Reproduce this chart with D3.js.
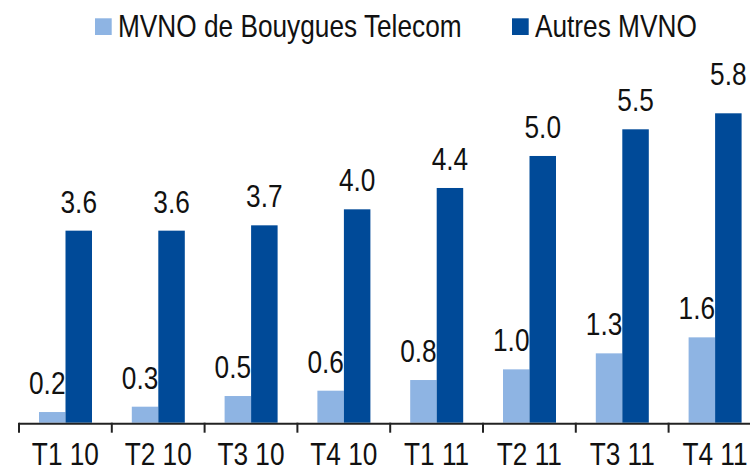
<!DOCTYPE html>
<html><head><meta charset="utf-8">
<script src="https://cdn.jsdelivr.net/npm/d3@7"></script>
<style>
html,body{margin:0;padding:0;background:#fff;}
svg{display:block;}
text{font-family:"Liberation Sans",Arial,sans-serif;fill:#111;}
</style></head>
<body>
<svg id="c" width="750" height="472"></svg>
<script>
const categories = ["T1 10","T2 10","T3 10","T4 10","T1 11","T2 11","T3 11","T4 11"];
const seriesNames = ["MVNO de Bouygues Telecom","Autres MVNO"];
const bouygues = [0.2,0.3,0.5,0.6,0.8,1.0,1.3,1.6];
const autres = [3.6,3.6,3.7,4.0,4.4,5.0,5.5,5.8];
const colors = ["#8EB4E3","#004A98"];

const NARROW = 0.82;
const svg = d3.select("#c");
const base = 422.7;
const x = d3.scaleBand().domain(categories).range([19, 19 + 92.8*8]).padding(0);
const xs = d3.scaleBand().domain(seriesNames).range([20, 73]).padding(0);
const y = d3.scaleLinear().domain([0, 5.8]).range([base, 113.3]);

function ntext(sel, tx, ty, str, anchor){
  return sel.append("text")
    .attr("transform", `translate(${tx},${ty}) scale(${NARROW},1)`)
    .attr("text-anchor", anchor || "middle")
    .attr("font-size", 32).text(str);
}

const data = categories.map((c,i)=>({c, vals:[bouygues[i], autres[i]]}));

svg.append("g").selectAll("g.grp").data(data).join("g").attr("class","grp")
  .attr("transform", d=>`translate(${x(d.c)},0)`)
  .each(function(d,i){
    const gg = d3.select(this);
    d.vals.forEach((v,k)=>{
      const s = seriesNames[k];
      gg.append("rect").attr("x", xs(s)).attr("width", xs.bandwidth())
        .attr("y", y(v)).attr("height", base - y(v)).attr("fill", colors[k]);
      const extra = (k===1 && i===categories.length-1) ? -10 : 0;
      ntext(gg, xs(s) + xs.bandwidth()/2 + (k===0 ? -5 : 0), y(v) - 18 + extra, v.toFixed(1));
    });
  });

// axis line and boundary ticks
svg.append("line").attr("x1", x(categories[0])).attr("x2", 750)
  .attr("y1", base+1).attr("y2", base+1).attr("stroke","#222").attr("stroke-width",2);
svg.selectAll("line.tk").data(categories).join("line").attr("class","tk")
  .attr("x1", d=>x(d)).attr("x2", d=>x(d)).attr("y1", base).attr("y2", base+10)
  .attr("stroke","#222").attr("stroke-width",2);

// category labels via the band scale
const ax = svg.append("g");
categories.forEach(c=>{
  ntext(ax, x(c) + x.bandwidth()/2, 465, c);
});

// legend
const legX = [95, 512];
seriesNames.forEach((s,k)=>{
  svg.append("rect").attr("x",legX[k]).attr("y",18.3).attr("width",16.7).attr("height",16.7).attr("fill",colors[k]);
  ntext(svg, legX[k]+23, 36.7, s, "start");
});
</script>
</body></html>
